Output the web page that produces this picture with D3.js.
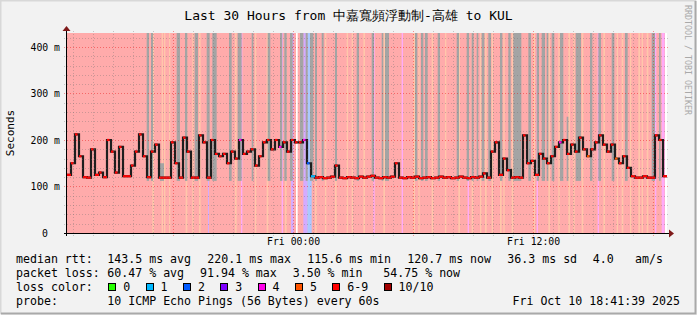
<!DOCTYPE html>
<html>
<head>
<meta charset="utf-8">
<script src="https://cdn.jsdelivr.net/npm/d3@7"></script>
<style>
body { margin: 0; background: #f2f2f2; }
svg text { font-family: "DejaVu Sans Mono", monospace; fill: #000; }
</style>
</head>
<body>
<script>
var width = 697, height = 315;
var margin = {top: 33, left: 67, right: 30, bottom: 82};

// time range of the graph (last 30 hours)
var start = new Date(2025, 9, 9, 12, 41, 39);
var end = new Date(2025, 9, 10, 18, 41, 39);
var stepMin = 12;

// median rtt in ms, one value every 12 minutes
var medianMs = [
  125,150,212,165,120,119,180,125,130,120,
  200,175,130,185,122,122,145,175,212,165,
  120,175,190,119,119,119,195,150,119,205,
  175,119,119,210,195,119,200,170,165,170,
  150,175,160,200,170,175,180,145,165,195,
  200,180,200,185,195,175,200,195,195,200,
  150,122,119,120,118,119,121,145,119,118,
  120,119,118,121,119,121,123,119,118,120,
  119,121,150,119,118,120,119,121,118,119,
  120,118,119,121,119,120,118,119,121,119,
  118,120,119,121,128,119,175,195,125,160,
  135,119,120,119,210,150,155,125,170,160,
  150,165,185,195,200,170,190,175,205,180,
  165,180,195,210,190,175,190,160,150,165,
  140,122,119,119,122,119,119,210,200,122
];
// samples whose loss is not 6-9: [sample index, loss level index]
var medianLoss = [[43,4],[53,4],[59,4],[60,2],[61,1],[123,4],[130,5],[137,5]];

// loss levels
var lossLabels = ["0", "1", "2", "3", "4", "5", "6-9", "10/10"];
var lossColors = ["#26ff00", "#00b8ff", "#0059ff", "#7e00ff", "#ff00ea", "#ff5500", "#ff0000", "#a10000"];
var baseLoss = 6;

// loss background stripes: [minutes from start, duration in minutes, loss level]
var lossStripes = [
  [256,5,5],[284,4,5],[291,4,5],[306,4,5],[356,5,5],[376,4,5],[396,5,5],[423,3,3],
  [504,5,5],[522,4,4],[564,4,5],[599,5,5],[644,4,4],[654,5,5],[672,8,3],
  [709,12,3],[721,13,2],[744,5,5],[774,4,5],[804,5,5],[839,4,5],[854,4,5],[889,5,5],
  [919,4,4],[949,5,5],[1004,4,4],[1039,5,5],[1054,4,5],[1094,5,5],[1134,4,5],
  [1174,5,5],[1202,4,4],[1214,5,5],[1239,4,5],[1254,5,5],[1274,4,5],[1299,5,5],
  [1309,4,5],[1334,5,5],[1399,5,5],[1409,4,4],[1444,5,5],[1474,4,5],[1504,5,5],
  [1519,4,5],[1544,5,5],[1592,4,4],[1609,5,5],[1649,4,5],[1664,5,5],[1689,4,5],
  [1714,5,5],[1724,4,5],[1739,5,5],[1764,4,4],[1784,9,4]
];
// no data: [minutes from start, duration in minutes]
var gaps = [[687,5]];
var dataEndMin = 1794;

// smoke from pings far above the median: [minutes from start, duration, top in ms]
var smoke = [
  [239,7,430],[252,6,430],[279,12,150],[329,10,430],[354,7,430],[383,10,430],
  [419,9,430],[436,10,430],[444,5,430],[486,8,430],[512,12,430],[554,5,430],
  [602,8,430],[639,7,430],[652,7,430],[669,8,430],[699,10,430],[716,6,430],
  [729,10,430],[744,6,430],[764,6,430],[804,6,430],[869,7,430],[914,7,430],
  [944,5,430],[954,12,430],[1044,7,430],[1062,7,430],[1074,8,430],[1112,7,430],
  [1169,7,430],[1199,7,430],[1214,6,430],[1229,5,430],[1244,8,430],[1264,8,430],
  [1299,7,430],[1324,7,430],[1339,24,430],[1384,8,430],[1409,7,430],[1424,10,430],
  [1439,5,430],[1454,8,430],[1479,10,430],[1499,5,250],[1526,16,430],[1569,7,430],
  [1594,8,430],[1634,8,430],[1674,8,430],[1754,10,430],[1776,5,430]
];

// legend text
var title = "Last 30 Hours from 中嘉寬頻浮動制-高雄 to KUL";
var rttStats = ["143.5 ms avg", "220.1 ms max", "115.6 ms min", "120.7 ms now", "36.3 ms sd", "4.0", "am/s"];
var lossStats = ["60.47 % avg", "91.94 % max", "3.50 % min", "54.75 % now"];
var probeText = "10 ICMP Echo Pings (56 Bytes) every 60s";
var stampText = "Fri Oct 10 18:41:39 2025";

var svg = d3.select("body").append("svg")
  .attr("width", width)
  .attr("height", height);

// canvas with frame
svg.append("rect").attr("width", width).attr("height", height).attr("fill", "#f2f2f2");
svg.append("path").attr("d", "M0.5,314V0.5H696").attr("stroke", "#d8d8d8").attr("fill", "none").attr("stroke-width", 2);
svg.append("path").attr("d", "M1,313.5H695.5V1").attr("stroke", "#a9a9a9").attr("fill", "none").attr("stroke-width", 2);

var plotW = 600, plotH = 200;
var x = d3.scaleTime().domain([start, end]).range([margin.left, margin.left + plotW]);
var y = d3.scaleLinear().domain([0, 430]).range([margin.top + plotH, margin.top]);
var atMin = function(m) { return new Date(start.getTime() + m * 60000); };
var bg = function(level) { return d3.interpolateRgb("#ffffff", lossColors[level])(0.33); };

svg.append("clipPath").attr("id", "plotclip")
  .append("rect").attr("x", margin.left).attr("y", margin.top).attr("width", plotW).attr("height", plotH);
var plot = svg.append("g").attr("clip-path", "url(#plotclip)");

plot.append("rect")
  .attr("x", margin.left).attr("y", margin.top)
  .attr("width", plotW).attr("height", plotH)
  .attr("fill", "#fff");

// loss background
plot.append("rect")
  .attr("x", x(start)).attr("y", margin.top)
  .attr("width", x(atMin(dataEndMin)) - x(start)).attr("height", plotH)
  .attr("fill", bg(baseLoss));
plot.selectAll("rect.loss")
  .data(lossStripes)
  .enter().append("rect")
    .attr("class", "loss")
    .attr("x", function(d) { return x(atMin(d[0])); })
    .attr("y", margin.top)
    .attr("width", function(d) { return x(atMin(d[0] + d[1])) - x(atMin(d[0])); })
    .attr("height", plotH)
    .attr("fill", function(d) { return bg(d[2]); });
plot.selectAll("rect.gap")
  .data(gaps)
  .enter().append("rect")
    .attr("class", "gap")
    .attr("x", function(d) { return x(atMin(d[0])); })
    .attr("y", margin.top)
    .attr("width", function(d) { return x(atMin(d[0] + d[1])) - x(atMin(d[0])); })
    .attr("height", plotH)
    .attr("fill", "#fff");

// grid
var grid = svg.append("g");
var yMinor = d3.range(20, 430, 20).filter(function(v) { return v % 100 !== 0; });
var yMajor = [100, 200, 300, 400];
grid.selectAll("line.hmin").data(yMinor).enter().append("line")
  .attr("x1", margin.left - 3).attr("x2", margin.left + plotW + 3)
  .attr("y1", function(d) { return Math.round(y(d)) + 0.5; })
  .attr("y2", function(d) { return Math.round(y(d)) + 0.5; })
  .attr("stroke", "rgba(110,110,110,0.35)").attr("stroke-dasharray", "1,2");
grid.selectAll("line.hmaj").data(yMajor).enter().append("line")
  .attr("x1", margin.left - 3).attr("x2", margin.left + plotW + 3)
  .attr("y1", function(d) { return Math.round(y(d)) + 0.5; })
  .attr("y2", function(d) { return Math.round(y(d)) + 0.5; })
  .attr("stroke", "rgba(230,0,0,0.4)").attr("stroke-dasharray", "1,2");
var hours = d3.timeHour.range(d3.timeHour.ceil(start), end);
grid.selectAll("line.v").data(hours).enter().append("line")
  .attr("x1", function(d) { return Math.round(x(d)) + 0.5; })
  .attr("x2", function(d) { return Math.round(x(d)) + 0.5; })
  .attr("y1", margin.top - 2).attr("y2", margin.top + plotH + 4)
  .attr("stroke", function(d) { return d.getHours() % 6 === 0 ? "rgba(230,0,0,0.4)" : "rgba(110,110,110,0.35)"; })
  .attr("stroke-dasharray", "1,2");

// smoke
plot.selectAll("rect.smoke")
  .data(smoke)
  .enter().append("rect")
    .attr("class", "smoke")
    .attr("x", function(d) { return x(atMin(d[0])); })
    .attr("y", function(d) { return y(d[2]); })
    .attr("width", function(d) { return x(atMin(d[0] + d[1])) - x(atMin(d[0])); })
    .attr("height", function(d) { return y(112) - y(d[2]); })
    .attr("fill", "#a4a4a4");

// median
var samples = medianMs.map(function(v, i) { return {t: atMin(i * stepMin), t1: atMin((i + 1) * stepMin), v: v, loss: baseLoss}; });
medianLoss.forEach(function(d) { samples[d[0]].loss = d[1]; });
var stepped = samples.concat([{t: samples[samples.length - 1].t1, v: samples[samples.length - 1].v}]);
var line = d3.line()
  .x(function(d) { return x(d.t); })
  .y(function(d) { return y(d.v); })
  .curve(d3.curveStepAfter);
plot.append("path")
  .datum(stepped)
  .attr("d", line)
  .attr("fill", "none")
  .attr("stroke", "#1e1e1e")
  .attr("stroke-width", 2.2);
// the median mark: a dot at each reading, a full run along the quiet baseline
plot.selectAll("line.med")
  .data(samples)
  .enter().append("line")
    .attr("x1", function(d) { return x(d.t); })
    .attr("x2", function(d) { return d.v <= 125 ? x(d.t1) : x(d.t) + 2.5; })
    .attr("y1", function(d) { return y(d.v); })
    .attr("y2", function(d) { return y(d.v); })
    .attr("stroke", function(d) { return lossColors[d.loss]; })
    .attr("stroke-width", 2.2);

// axes
svg.append("line").attr("x1", margin.left - 3).attr("x2", 670).attr("y1", 233.5).attr("y2", 233.5).attr("stroke", "#000");
svg.append("line").attr("x1", 66.5).attr("x2", 66.5).attr("y1", 236).attr("y2", 30).attr("stroke", "#000");
svg.append("path").attr("d", "M669,229.5L674,233.5L669,237.5Z").attr("fill", "#7f1a1a");
svg.append("path").attr("d", "M62.5,31L66.5,26L70.5,31Z").attr("fill", "#7f1a1a");

var yAxis = svg.append("g")
  .attr("transform", "translate(60,0)")
  .call(d3.axisLeft(y).tickValues([0, 100, 200, 300, 400]).tickSize(0).tickPadding(0)
    .tickFormat(function(d) { return d === 0 ? "0" : d + " m"; }));
yAxis.select(".domain").remove();
yAxis.selectAll("text").attr("font-size", 9.8).attr("font-family", null)
  .attr("x", function(d) { return d === 0 ? -12 : 0; });

var xAxis = svg.append("g")
  .attr("transform", "translate(0,233)")
  .call(d3.axisBottom(x).tickValues([new Date(2025, 9, 10, 0, 0), new Date(2025, 9, 10, 12, 0)])
    .tickSize(0).tickPadding(5).tickFormat(d3.timeFormat("%a %H:%M")));
xAxis.select(".domain").remove();
xAxis.selectAll("text").attr("font-size", 9.8).attr("font-family", null);

// labels
svg.append("text")
  .attr("x", width / 2).attr("y", 20)
  .attr("text-anchor", "middle")
  .attr("font-size", 13)
  .text(title);
svg.append("text")
  .attr("transform", "translate(14,133) rotate(-90)")
  .attr("text-anchor", "middle")
  .attr("font-size", 11)
  .text("Seconds");
svg.append("text")
  .attr("transform", "translate(685,5) rotate(90)")
  .attr("font-size", 8.3)
  .style("fill", "#a9a9a9")
  .text("RRDTOOL / TOBI OETIKER");

// legend
var legend = svg.append("g").attr("font-size", 11.6);
var row = function(yy, label, items, xs) {
  legend.append("text").attr("x", 16).attr("y", yy).text(label);
  items.forEach(function(s, i) {
    legend.append("text").attr("x", xs[i]).attr("y", yy).text(s);
  });
};
row(263, "median rtt:", rttStats, [107.3, 207.3, 307.3, 407.3, 507.3, 592.7, 635]);
row(277, "packet loss:", lossStats, [107.3, 200, 292.7, 383.3]);
legend.append("text").attr("x", 16).attr("y", 291).text("loss color:");
var bx = 108.3;
lossLabels.forEach(function(lab, i) {
  legend.append("rect")
    .attr("x", Math.round(bx) + 0.5).attr("y", 283.5)
    .attr("width", 7).attr("height", 7)
    .attr("fill", lossColors[i]).attr("stroke", "#000");
  legend.append("text").attr("x", bx + 15).attr("y", 291).text(lab);
  bx += 15 + lab.length * 7.02 + 15.3;
});
legend.append("text").attr("x", 16).attr("y", 305).text("probe:");
legend.append("text").attr("x", 107.3).attr("y", 305).text(probeText);
legend.append("text").attr("x", 680).attr("y", 305).attr("text-anchor", "end").text(stampText);
</script>
</body>
</html>
